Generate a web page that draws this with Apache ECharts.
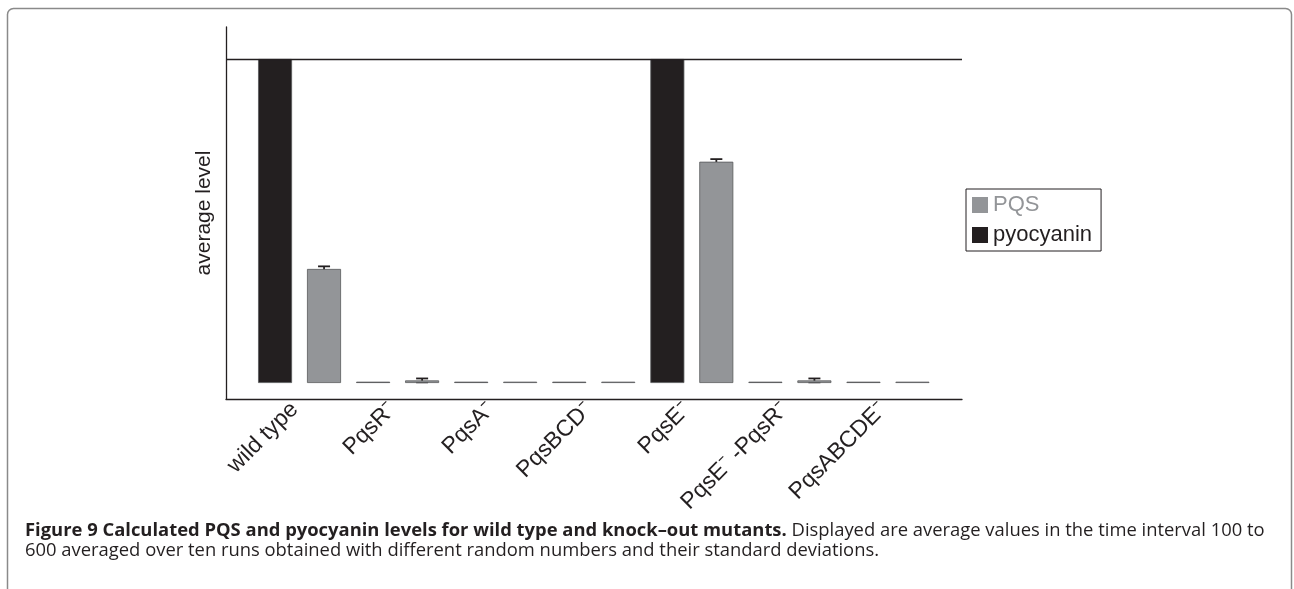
<!DOCTYPE html>
<html>
<head>
<meta charset="utf-8">
<script src="https://cdn.jsdelivr.net/npm/echarts@6/dist/echarts.min.js"></script>
<style>
html, body { margin: 0; padding: 0; background: #fff; }
#chart { width: 1294px; height: 589px; }
</style>
</head>
<body>
<div id="chart"></div>
<script>
// strains on the x axis
var strains = ["wild type", "PqsR⁻", "PqsA⁻", "PqsBCD⁻", "PqsE⁻", "PqsE⁻ -PqsR⁻", "PqsABCDE⁻"];
// average levels (relative)
var pyocyanin = [1.0, 0.004, 0.004, 0.004, 1.0, 0.004, 0.004];
var pqs = [0.352, 0.008, 0.004, 0.004, 0.683, 0.008, 0.004];
// standard deviations of PQS
var pqsErr = [0.008, 0.006, 0, 0, 0.008, 0.006, 0];
// level that the top reference line marks
var topLevel = 1;

var black = "#231f20";
var grey = "#939598";

var chart = echarts.init(document.getElementById("chart"));

var errData = pqs.map(function (v, i) {
  return [i, v - pqsErr[i], v + pqsErr[i]];
}).filter(function (d) { return d[2] - d[1] > 0; });

var yMin = -0.0494, yMax = 1.0988;

chart.setOption({
  animation: false,
  title: {
    left: 20,
    top: 516,
    text: "{b|Figure 9 Calculated PQS and pyocyanin levels for wild type and knock–out mutants.} Displayed are average values in the time interval 100 to\n600 averaged over ten runs obtained with different random numbers and their standard deviations.",
    textStyle: {
      fontFamily: "Open Sans",
      fontSize: 18.4,
      color: black,
      fontWeight: "normal",
      lineHeight: 20,
      rich: {
        b: { fontFamily: "Open Sans", fontSize: 18.4, fontWeight: "bold", color: black, lineHeight: 20 }
      }
    }
  },
  graphic: [{
    type: "rect",
    silent: true,
    shape: { x: 7.5, y: 8.5, width: 1284, height: 640, r: 6 },
    style: { fill: "none", stroke: "#8a8a8a", lineWidth: 1.5 }
  }],
  legend: {
    left: 966,
    top: 189,
    orient: "vertical",
    padding: [5, 9, 5, 6],
    itemGap: 8,
    itemWidth: 16,
    itemHeight: 16,
    itemTextGap: 10,
    borderColor: black,
    borderWidth: 1,
    icon: "rect",
    itemStyle: { borderWidth: 0 },
    textStyle: { fontFamily: "Liberation Sans", fontSize: 22 },
    data: [
      { name: "PQS", textStyle: { color: grey } },
      { name: "pyocyanin", textStyle: { color: black } }
    ]
  },
  grid: [
    { left: 226, top: 27, width: 736, height: 372 },
    { left: 250.5, top: 27, width: 686.5, height: 372 }
  ],
  xAxis: [
    {
      gridIndex: 0, type: "value", min: 0, max: 1,
      axisLine: { show: true, onZero: false, lineStyle: { color: black, width: 1.3 } },
      axisTick: { show: false }, axisLabel: { show: false }, splitLine: { show: false }
    },
    {
      gridIndex: 1, type: "category", data: strains,
      axisLine: { show: false }, axisTick: { show: false },
      axisLabel: {
        interval: 0, rotate: 45, margin: 2, padding: [0, 7, 0, 0],
        fontFamily: "Liberation Sans", fontSize: 23, color: black
      }
    }
  ],
  yAxis: [
    {
      gridIndex: 0, type: "value", min: yMin, max: yMax,
      name: "average level", nameLocation: "middle", nameGap: 11,
      nameTextStyle: { fontFamily: "Liberation Sans", fontSize: 21, color: black },
      axisLine: { show: true, onZero: false, lineStyle: { color: black, width: 1.3 } },
      axisTick: { show: false }, axisLabel: { show: false }, splitLine: { show: false }
    },
    {
      gridIndex: 1, type: "value", min: yMin, max: yMax, show: false,
      splitLine: { show: false }
    }
  ],
  series: [
    {
      type: "line",
      xAxisIndex: 0, yAxisIndex: 0,
      data: [],
      markLine: {
        silent: true,
        symbol: ["none", "none"],
        label: { show: false },
        lineStyle: { color: black, width: 1.3, type: "solid" },
        data: [{ yAxis: topLevel }]
      }
    },
    {
      name: "pyocyanin",
      type: "bar",
      xAxisIndex: 1, yAxisIndex: 1,
      barWidth: 34,
      barGap: "44%",
      itemStyle: { color: black, borderColor: "#58595b", borderWidth: 0.8 },
      data: pyocyanin
    },
    {
      name: "PQS",
      type: "bar",
      xAxisIndex: 1, yAxisIndex: 1,
      barWidth: 34,
      barGap: "44%",
      itemStyle: { color: grey, borderColor: "#58595b", borderWidth: 0.8 },
      data: pqs
    },
    {
      type: "custom",
      xAxisIndex: 1, yAxisIndex: 1,
      silent: true,
      data: errData,
      renderItem: function (params, api) {
        var band = api.size([1, 0])[0];
        var shift = band * 0.25;
        var lo = api.coord([api.value(0), api.value(1)]);
        var hi = api.coord([api.value(0), api.value(2)]);
        var x = lo[0] + shift;
        var half = 6;
        var st = { stroke: black, lineWidth: 1.8 };
        return {
          type: "group",
          children: [
            { type: "line", shape: { x1: x, y1: lo[1], x2: x, y2: hi[1] }, style: st },
            { type: "line", shape: { x1: x - half, y1: lo[1], x2: x + half, y2: lo[1] }, style: st },
            { type: "line", shape: { x1: x - half, y1: hi[1], x2: x + half, y2: hi[1] }, style: st }
          ]
        };
      }
    }
  ]
});
</script>
</body>
</html>
